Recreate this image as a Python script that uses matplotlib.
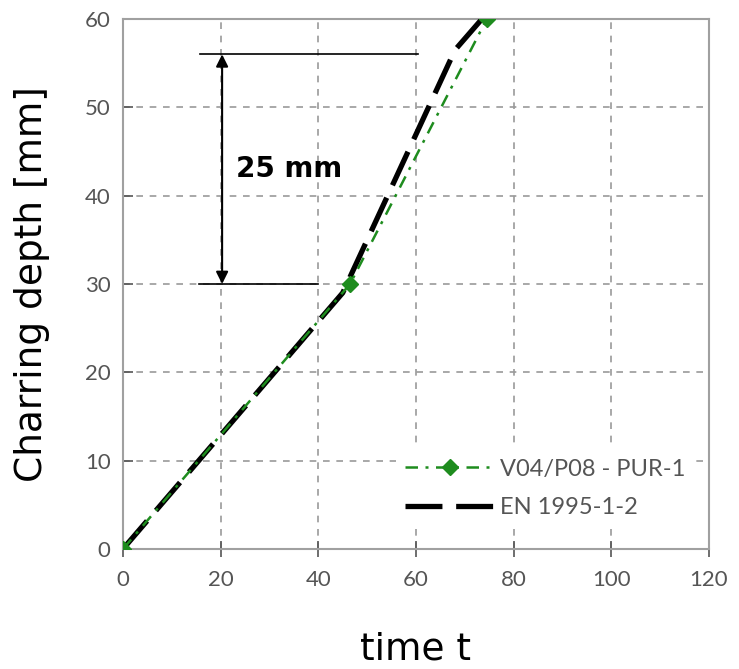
import matplotlib.pyplot as plt

# datos
t_test = [0, 46.5, 74.5]
d_test = [0, 30, 60]
t_en = [0, 45, 68.0, 73.5]
d_en = [0, 29, 56.5, 60]

x_ticks = [0, 20, 40, 60, 80, 100, 120]
y_ticks = [0, 10, 20, 30, 40, 50, 60]

fig = plt.figure(figsize=(7.39, 6.69), dpi=100)
ax = fig.add_axes([0.1664, 0.1794, 0.793, 0.7922])

ax.plot(t_en, d_en, color="black", lw=3.8, dashes=(7, 2.6), label="EN 1995-1-2", zorder=3)
ax.plot(t_test, d_test, color="#1e8c1e", lw=1.8, dashes=(5, 3, 1.2, 3), marker="D",
        markersize=8, label="V04/P08 - PUR-1", zorder=4)

# anotacao 25 mm
ax.plot([15.8, 60.4], [56, 56], color="black", lw=1.2)
ax.plot([15.6, 40], [30, 30], color="black", lw=1.2)
ax.annotate("", xy=(20.3, 56), xytext=(20.3, 30),
            arrowprops=dict(arrowstyle="<|-|>", color="black", lw=1.5, mutation_scale=18,
                            shrinkA=0, shrinkB=0))
ax.text(23.2, 43, "25 mm", fontsize=20, fontweight="bold", va="center", ha="left")

ax.set_xlim(0, 120)
ax.set_ylim(0, 60)
ax.set_xticks(x_ticks)
ax.set_yticks(y_ticks)
ax.grid(True, color="#9a9a9a", ls=(0, (4, 4)), lw=1.2)
ax.set_axisbelow(True)
for s in ax.spines.values():
    s.set_color("#a0a0a0")
    s.set_linewidth(1.5)
ax.tick_params(colors="#555555", labelsize=16, length=7, width=1.2, pad=9)
ax.tick_params(axis="x", direction="inout", length=12)
ax.tick_params(axis="y", direction="in")
for lab in ax.get_xticklabels() + ax.get_yticklabels():
    lab.set_family("Lato")

ax.set_xlabel("time t", fontsize=27)
ax.set_ylabel("Charring depth [mm]", fontsize=27)
ax.xaxis.set_label_coords(0.5, -0.155)
ax.yaxis.set_label_coords(-0.125, 0.5)

handles, labels = ax.get_legend_handles_labels()
leg = ax.legend(handles[::-1], labels[::-1], loc="lower right", bbox_to_anchor=(0.975, 0.04),
                frameon=True, fontsize=17, handlelength=3.8, handletextpad=0.2,
                borderaxespad=0, labelspacing=0.75)
leg.get_frame().set_edgecolor("none")
leg.get_frame().set_facecolor("white")
leg.get_frame().set_alpha(1)
for txt in leg.get_texts():
    txt.set_color("#555555")
    txt.set_family("Lato")

fig.savefig("out.png", dpi=100)
